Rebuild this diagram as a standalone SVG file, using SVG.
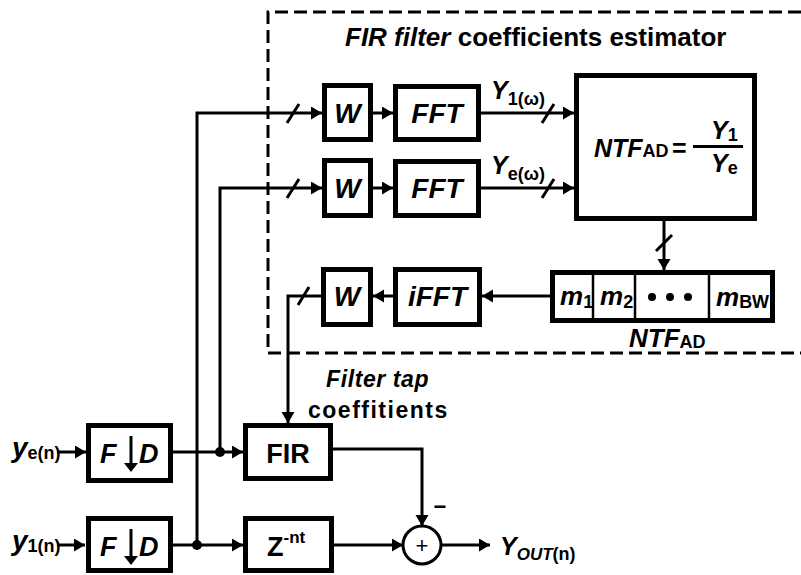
<svg xmlns="http://www.w3.org/2000/svg" width="801" height="575" viewBox="0 0 801 575">
<style>
.box{fill:#fff;stroke:#000;stroke-width:5}
.ln{fill:none;stroke:#000;stroke-width:3}
.arr{fill:none;stroke:#000;stroke-width:3;marker-end:url(#ah)}
.t{font-family:"Liberation Sans",Arial,sans-serif;font-weight:bold;fill:#000}
.i{font-style:italic}
.c{text-anchor:middle}
.s{font-size:18px;font-style:normal}
</style>
<defs>
<marker id="ah" markerUnits="userSpaceOnUse" markerWidth="12" markerHeight="14" refX="11" refY="6.5" orient="auto">
<path d="M0,0 L11,6.5 L0,13 z" fill="#000"/>
</marker>
</defs>

<g id="estimator-frame">
<path d="M801,12 H268 V353 H801" fill="none" stroke="#000" stroke-width="3" stroke-dasharray="13 6"/>
<text class="t" x="345" y="46" font-size="26"><tspan class="i">FIR filter</tspan> coefficients estimator</text>
</g>

<g id="connectors">
<path class="arr" d="M197,545 V113 H322"/>
<line class="ln" x1="287" y1="123" x2="299" y2="104"/>
<line class="arr" x1="373" y1="113" x2="393" y2="113"/>
<line class="arr" x1="481" y1="113" x2="574" y2="113"/>
<line class="ln" x1="542" y1="123" x2="554" y2="104"/>
<path class="arr" d="M220,452 V188 H322"/>
<line class="ln" x1="287" y1="198" x2="299" y2="179"/>
<line class="arr" x1="373" y1="188" x2="393" y2="188"/>
<line class="arr" x1="481" y1="188" x2="574" y2="188"/>
<line class="ln" x1="542" y1="198" x2="554" y2="179"/>
<line class="arr" x1="664" y1="221" x2="664" y2="270"/>
<line class="ln" x1="656" y1="251" x2="672" y2="235"/>
<line class="arr" x1="550" y1="296" x2="482" y2="296"/>
<line class="arr" x1="393" y1="296" x2="373" y2="296"/>
<path class="arr" d="M321,296 H288 V423"/>
<line class="ln" x1="298" y1="305" x2="309" y2="287"/>
<line class="arr" x1="57" y1="452" x2="86" y2="452"/>
<line class="arr" x1="173" y1="452" x2="243" y2="452"/>
<line class="arr" x1="57" y1="545" x2="85" y2="545"/>
<line class="arr" x1="173" y1="545" x2="243" y2="545"/>
<circle cx="220" cy="452" r="5"/>
<circle cx="197" cy="545" r="5"/>
<path class="arr" d="M333,449 H422 V526"/>
<line class="arr" x1="334" y1="545" x2="403" y2="545"/>
<line class="arr" x1="441" y1="545" x2="490" y2="545"/>
</g>

<g id="W1"><rect class="box" x="324.5" y="85.5" width="46" height="54"/><text class="t i c" x="347.5" y="123" font-size="28">W</text></g>
<g id="FFT1"><rect class="box" x="395.5" y="86.5" width="83" height="53"/><text class="t i c" x="437" y="123" font-size="28">FFT</text></g>
<g id="W2"><rect class="box" x="324.5" y="160.5" width="46" height="55"/><text class="t i c" x="347.5" y="198" font-size="28">W</text></g>
<g id="FFT2"><rect class="box" x="395.5" y="161.5" width="83" height="54"/><text class="t i c" x="437" y="198" font-size="28">FFT</text></g>

<g id="labelY1"><text class="t i" x="491" y="99" font-size="25">Y<tspan class="s" dy="6">1(ω)</tspan></text></g>
<g id="labelYe"><text class="t i" x="491" y="174" font-size="25">Y<tspan class="s" dy="6">e(ω)</tspan></text></g>

<g id="NTF">
<rect class="box" x="576.5" y="75.5" width="178" height="143"/>
<text class="t i" x="594" y="157" font-size="25">NTF<tspan class="s">AD</tspan></text>
<text class="t" x="672" y="157" font-size="25">=</text>
<line x1="693" y1="146.5" x2="743" y2="146.5" stroke="#000" stroke-width="3"/>
<text class="t i" x="711" y="139" font-size="25">Y<tspan class="s" dy="2">1</tspan></text>
<text class="t i" x="711" y="172" font-size="25">Y<tspan class="s" dy="2">e</tspan></text>
</g>

<g id="mvector">
<rect class="box" x="552.5" y="272.5" width="220" height="48"/>
<line x1="593" y1="275" x2="593" y2="318" stroke="#000" stroke-width="2.5"/>
<line x1="635" y1="275" x2="635" y2="318" stroke="#000" stroke-width="2.5"/>
<line x1="709" y1="275" x2="709" y2="318" stroke="#000" stroke-width="2.5"/>
<text class="t i" x="560" y="305" font-size="26">m<tspan class="s" font-size="19" dy="3">1</tspan></text>
<text class="t i" x="600" y="305" font-size="26">m<tspan class="s" font-size="19" dy="3">2</tspan></text>
<circle cx="652" cy="297" r="4"/><circle cx="670" cy="297" r="4"/><circle cx="688" cy="297" r="4"/>
<text class="t i" x="716" y="306" font-size="26">m<tspan class="s" dy="2">BW</tspan></text>
<text class="t i" x="629" y="347" font-size="26">NTF<tspan class="s" dy="1">AD</tspan></text>
</g>

<g id="W3"><rect class="box" x="323.5" y="269.5" width="47" height="55"/><text class="t i c" x="347" y="306" font-size="28">W</text></g>
<g id="iFFT"><rect class="box" x="395.5" y="269.5" width="84" height="55"/><text class="t i c" x="437.5" y="306" font-size="28">iFFT</text></g>

<g id="tapLabel">
<text class="t i" x="326" y="387" font-size="23" letter-spacing="0.6">Filter tap</text>
<text class="t" x="308" y="418" font-size="23" letter-spacing="1.5">coeffitients</text>
</g>

<g id="in-ye"><text class="t i" x="12" y="457" font-size="28">y<tspan class="s" font-size="19" dy="2">e(n)</tspan></text></g>
<g id="in-y1"><text class="t i" x="12" y="550" font-size="28">y<tspan class="s" font-size="19" dy="2">1(n)</tspan></text></g>

<g id="FD1">
<rect class="box" x="88.5" y="425.5" width="82" height="55"/>
<text class="t i" x="100" y="463" font-size="27">F</text>
<text class="t i" x="139" y="463" font-size="27">D</text>
<line x1="131" y1="436" x2="131" y2="464" stroke="#000" stroke-width="3"/>
<path d="M124,463 L138,463 L131,472 z"/>
</g>
<g id="FD2">
<rect class="box" x="88.5" y="518.5" width="82" height="52"/>
<text class="t i" x="100" y="556" font-size="27">F</text>
<text class="t i" x="139" y="556" font-size="27">D</text>
<line x1="131" y1="529" x2="131" y2="557" stroke="#000" stroke-width="3"/>
<path d="M124,556 L138,556 L131,565 z"/>
</g>

<g id="FIR"><rect class="box" x="245.5" y="425.5" width="85" height="53"/><text class="t c" x="288" y="463" font-size="27">FIR</text></g>
<g id="Zdelay"><rect class="box" x="245.5" y="518.5" width="86" height="52"/><text class="t" x="267" y="556" font-size="27">Z<tspan font-size="17" dy="-13">-nt</tspan></text></g>

<g id="sum">
<circle cx="422" cy="545" r="19" fill="#fff" stroke="#000" stroke-width="3"/>
<text x="422" y="553" font-family="Liberation Sans,Arial,sans-serif" font-size="22" text-anchor="middle">+</text>
<text class="t" x="440" y="514" font-size="22" text-anchor="middle">−</text>
</g>

<g id="out"><text class="t i" x="500" y="555" font-size="25">Y<tspan font-size="17" dy="5">OUT</tspan><tspan class="s">(n)</tspan></text></g>
</svg>
